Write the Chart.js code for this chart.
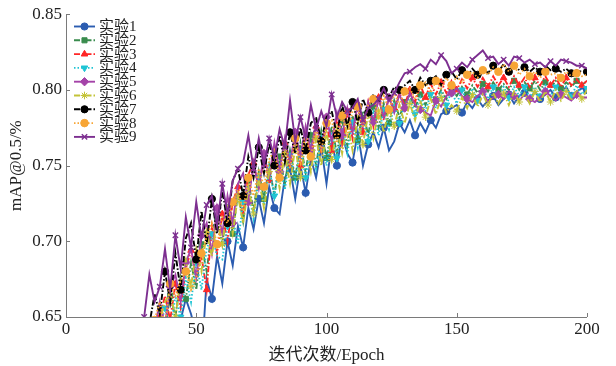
<!DOCTYPE html>
<html><head><meta charset="utf-8">
<script src="https://cdn.jsdelivr.net/npm/chart.js@4/dist/chart.umd.min.js"></script>
<style>html,body{margin:0;padding:0;background:#fff}#wrap{width:616px;height:366px}</style>
</head><body><div id="wrap"><canvas id="c" width="616" height="366"></canvas></div>
<script>
// epochs 30..200 step 2
const epochs = [30,32,34,36,38,40,42,44,46,48,50,52,54,56,58,60,62,64,66,68,70,72,74,76,78,80,82,84,86,88,90,92,94,96,98,100,102,104,106,108,110,112,114,116,118,120,122,124,126,128,130,132,134,136,138,140,142,144,146,148,150,152,154,156,158,160,162,164,166,168,170,172,174,176,178,180,182,184,186,188,190,192,194,196,198,200];
const seriesNames = ['实验1','实验2','实验3','实验4','实验5','实验6','实验7','实验8','实验9'];
const exp1 = [0.60,0.60,0.61,0.61,0.62,0.62,0.63,0.648,0.662,0.652,0.638,0.62,0.675,0.662,0.69,0.672,0.7,0.684,0.71,0.696,0.722,0.708,0.728,0.712,0.736,0.722,0.718,0.742,0.748,0.728,0.75,0.732,0.755,0.742,0.762,0.738,0.765,0.75,0.77,0.758,0.752,0.772,0.75,0.764,0.772,0.762,0.775,0.76,0.766,0.778,0.772,0.78,0.77,0.778,0.772,0.78,0.775,0.784,0.786,0.788,0.79,0.785,0.792,0.788,0.794,0.789,0.793,0.796,0.79,0.794,0.797,0.791,0.796,0.798,0.793,0.799,0.794,0.797,0.8,0.795,0.798,0.802,0.796,0.799,0.801,0.8];
const exp2 = [0.60,0.62,0.64,0.655,0.642,0.664,0.65,0.676,0.662,0.686,0.668,0.698,0.68,0.708,0.715,0.698,0.725,0.705,0.732,0.713,0.74,0.72,0.746,0.728,0.75,0.73,0.756,0.738,0.76,0.742,0.765,0.745,0.77,0.75,0.773,0.755,0.776,0.758,0.78,0.763,0.783,0.767,0.786,0.77,0.789,0.775,0.791,0.778,0.793,0.782,0.792,0.796,0.788,0.797,0.79,0.799,0.793,0.8,0.794,0.801,0.796,0.802,0.797,0.803,0.798,0.804,0.799,0.805,0.8,0.804,0.8,0.806,0.8,0.805,0.801,0.806,0.8,0.805,0.801,0.806,0.801,0.805,0.802,0.806,0.803,0.806];
const exp3 = [0.60,0.62,0.635,0.65,0.664,0.648,0.672,0.656,0.682,0.694,0.676,0.69,0.668,0.71,0.692,0.718,0.7,0.726,0.736,0.718,0.744,0.752,0.734,0.756,0.74,0.762,0.746,0.765,0.748,0.77,0.75,0.772,0.755,0.776,0.758,0.778,0.76,0.782,0.764,0.786,0.768,0.789,0.772,0.792,0.776,0.795,0.78,0.796,0.788,0.798,0.79,0.8,0.792,0.803,0.795,0.804,0.797,0.805,0.798,0.806,0.8,0.807,0.801,0.808,0.802,0.808,0.802,0.809,0.803,0.808,0.802,0.809,0.803,0.808,0.802,0.808,0.803,0.809,0.803,0.808,0.802,0.808,0.803,0.807,0.803,0.806];
const exp4 = [0.60,0.61,0.625,0.642,0.656,0.64,0.664,0.65,0.676,0.66,0.686,0.668,0.695,0.705,0.69,0.688,0.71,0.716,0.698,0.726,0.734,0.715,0.742,0.724,0.748,0.73,0.752,0.734,0.757,0.74,0.762,0.742,0.765,0.748,0.768,0.75,0.772,0.755,0.775,0.758,0.779,0.762,0.782,0.766,0.785,0.77,0.787,0.774,0.79,0.778,0.791,0.794,0.784,0.795,0.786,0.797,0.788,0.798,0.79,0.799,0.791,0.8,0.792,0.801,0.793,0.801,0.794,0.802,0.795,0.802,0.795,0.802,0.796,0.802,0.795,0.802,0.796,0.803,0.796,0.802,0.795,0.802,0.796,0.803,0.797,0.801];
const exp5 = [0.60,0.625,0.642,0.66,0.645,0.67,0.678,0.66,0.686,0.695,0.676,0.704,0.712,0.692,0.722,0.705,0.73,0.712,0.738,0.745,0.726,0.752,0.735,0.758,0.742,0.765,0.746,0.768,0.752,0.772,0.756,0.776,0.76,0.779,0.762,0.782,0.766,0.785,0.77,0.788,0.772,0.79,0.776,0.792,0.779,0.794,0.782,0.795,0.785,0.797,0.788,0.798,0.79,0.787,0.785,0.783,0.793,0.789,0.796,0.798,0.801,0.796,0.794,0.792,0.796,0.799,0.792,0.795,0.797,0.794,0.799,0.796,0.793,0.797,0.794,0.792,0.795,0.799,0.796,0.793,0.797,0.795,0.793,0.797,0.795,0.795];
const exp6 = [0.60,0.615,0.63,0.648,0.66,0.666,0.65,0.675,0.688,0.67,0.695,0.68,0.706,0.69,0.715,0.698,0.724,0.705,0.73,0.712,0.736,0.718,0.742,0.722,0.746,0.754,0.735,0.758,0.738,0.762,0.742,0.765,0.746,0.768,0.75,0.772,0.754,0.775,0.758,0.778,0.76,0.781,0.764,0.784,0.768,0.786,0.772,0.788,0.776,0.79,0.778,0.791,0.78,0.793,0.782,0.794,0.784,0.795,0.785,0.79,0.786,0.795,0.788,0.797,0.789,0.797,0.79,0.798,0.791,0.798,0.79,0.799,0.792,0.798,0.791,0.799,0.792,0.799,0.792,0.8,0.793,0.799,0.793,0.8,0.794,0.8];
const exp7 = [0.62,0.645,0.665,0.652,0.68,0.66,0.692,0.668,0.702,0.712,0.688,0.72,0.698,0.728,0.705,0.734,0.712,0.74,0.748,0.73,0.756,0.742,0.762,0.745,0.765,0.75,0.77,0.752,0.772,0.758,0.775,0.76,0.778,0.782,0.766,0.782,0.786,0.77,0.79,0.776,0.792,0.778,0.794,0.785,0.797,0.792,0.8,0.795,0.802,0.8,0.803,0.806,0.8,0.808,0.803,0.806,0.809,0.803,0.81,0.812,0.807,0.813,0.809,0.814,0.81,0.815,0.811,0.816,0.812,0.817,0.812,0.817,0.813,0.815,0.812,0.815,0.812,0.816,0.813,0.814,0.812,0.814,0.811,0.813,0.812,0.812];
const exp8 = [0.62,0.632,0.648,0.66,0.645,0.672,0.664,0.674,0.68,0.668,0.676,0.692,0.703,0.712,0.698,0.716,0.712,0.726,0.734,0.72,0.742,0.73,0.748,0.736,0.754,0.76,0.742,0.765,0.748,0.768,0.752,0.771,0.756,0.775,0.76,0.778,0.78,0.765,0.783,0.77,0.786,0.789,0.775,0.79,0.794,0.782,0.796,0.787,0.798,0.79,0.799,0.801,0.794,0.803,0.805,0.798,0.806,0.801,0.808,0.803,0.809,0.805,0.81,0.812,0.808,0.813,0.81,0.815,0.812,0.817,0.812,0.816,0.81,0.814,0.809,0.812,0.808,0.812,0.81,0.811,0.808,0.812,0.809,0.811,0.809,0.81];
const exp9 = [0.65,0.678,0.66,0.67,0.695,0.668,0.704,0.682,0.716,0.696,0.726,0.702,0.724,0.73,0.71,0.738,0.718,0.74,0.748,0.752,0.77,0.748,0.768,0.75,0.768,0.755,0.774,0.762,0.793,0.766,0.782,0.768,0.79,0.774,0.786,0.776,0.797,0.782,0.792,0.786,0.788,0.794,0.78,0.788,0.79,0.794,0.801,0.793,0.798,0.805,0.811,0.812,0.815,0.817,0.814,0.82,0.817,0.823,0.819,0.811,0.814,0.818,0.815,0.82,0.823,0.826,0.821,0.822,0.817,0.82,0.816,0.822,0.821,0.818,0.82,0.817,0.818,0.815,0.819,0.816,0.82,0.819,0.818,0.816,0.816,0.814];
const xTicks = [0,50,100,150,200];
const yTicks = [0.65,0.70,0.75,0.80,0.85];

const allSeries = [exp1,exp2,exp3,exp4,exp5,exp6,exp7,exp8,exp9];
const colors = ['#2b5cb0','#3a8c4e','#ff2626','#1fc4d4','#a443a8','#c3c338','#000000','#f7a535','#7d2f90'];
const dashes = [[], [6,2,1.5,2], [6,2,1.5,2], [1.5,2], [], [6,2,1.5,2], [6,2,1.5,2], [1.5,2], []];
const styles = ['circle','rect','triangle','triangle','rectRot','star','circle','circle','crossRot'];
const rots = [0,0,0,180,0,0,0,0,0];
const radii = [3.6,3.6,3.8,3.8,4.2,3.8,3.6,3.8,3.8];
const offs = [1,2,0,1,2,0,1,2,0];

const SERIF = "'Liberation Serif','Noto Sans CJK SC',serif";

const datasets = allSeries.map((s,i)=>({
  label: seriesNames[i],
  data: epochs.map((e,k)=>({x:e,y:s[k]})),
  borderColor: colors[i],
  backgroundColor: colors[i],
  borderWidth: 1.9,
  borderDash: dashes[i],
  pointStyle: styles[i],
  rotation: rots[i],
  pointBorderWidth: i===8 ? 1.4 : 1,
  pointRadius: (ctx)=> (ctx.dataIndex % 3 === offs[i]) ? radii[i] : 0,
  pointHoverRadius: 0,
  tension: 0,
  fill: false,
  order: 9 - i
}));

const axesPlugin = {
  id:'axesPlugin',
  afterDatasetsDraw(chart){
    const {ctx, chartArea:a, scales:{x,y}} = chart;
    ctx.save();
    ctx.strokeStyle = '#7a7a7a';
    ctx.lineWidth = 1;
    ctx.beginPath();
    ctx.moveTo(a.left+0.5, a.top); ctx.lineTo(a.left+0.5, a.bottom+0.5);
    ctx.lineTo(a.right, a.bottom+0.5);
    xTicks.forEach(v=>{const px=Math.round(x.getPixelForValue(v))+0.5; ctx.moveTo(px,a.bottom); ctx.lineTo(px,a.bottom-4);});
    yTicks.forEach(v=>{const py=Math.round(y.getPixelForValue(v))+0.5; ctx.moveTo(a.left,py); ctx.lineTo(a.left+4,py);});
    ctx.stroke();
    ctx.restore();
  },
  afterDraw(chart){
    const ctx = chart.ctx;
    ctx.save();
    const x0=74, x1=95, xt=99, y0=26.5, dy=13.8;
    chart.data.datasets.forEach((d,i)=>{
      const yy = y0 + i*dy;
      ctx.strokeStyle = colors[i];
      ctx.fillStyle = colors[i];
      ctx.lineWidth = 1.9;
      ctx.setLineDash(dashes[i]);
      ctx.beginPath(); ctx.moveTo(x0,yy); ctx.lineTo(x1,yy); ctx.stroke();
      ctx.setLineDash([]);
      ctx.lineWidth = i===8 ? 1.4 : 1;
      Chart.helpers.drawPoint(ctx,{pointStyle:styles[i],rotation:rots[i],radius:radii[i],borderWidth:ctx.lineWidth},(x0+x1)/2,yy);
      ctx.fillStyle = '#222';
      ctx.font = "15px "+SERIF;
      ctx.textBaseline = 'middle';
      ctx.textAlign = 'left';
      ctx.fillText(seriesNames[i], xt, yy+0.5);
    });
    ctx.restore();
  }
};

new Chart(document.getElementById('c'), {
  type:'line',
  data:{datasets},
  options:{
    responsive:false,
    animation:false,
    events:[],
    layout:{padding:{left:0,right:29,top:14,bottom:0}},
    plugins:{legend:{display:false},tooltip:{enabled:false}},
    scales:{
      x:{type:'linear',min:0,max:200,
         afterBuildTicks:(s)=>{s.ticks = xTicks.map(v=>({value:v}));},
         afterFit:(s)=>{s.height=49;},
         grid:{display:false,drawTicks:false,tickLength:0}, border:{display:false},
         ticks:{color:'#222',padding:2,font:{family:SERIF,size:17},maxRotation:0,callback:(v)=>String(v)},
         title:{display:true,text:'迭代次数/Epoch',color:'#222',font:{family:SERIF,size:17},padding:{top:1,bottom:0}}
      },
      y:{type:'linear',min:0.65,max:0.85,
         afterBuildTicks:(s)=>{s.ticks = yTicks.map(v=>({value:v}));},
         afterFit:(s)=>{s.width=66;},
         grid:{display:false,drawTicks:false,tickLength:0}, border:{display:false},
         ticks:{color:'#222',padding:4,font:{family:SERIF,size:17},callback:(v)=>Number(v).toFixed(2)},
         title:{display:true,text:'mAP@0.5/%',color:'#222',font:{family:SERIF,size:17},padding:{top:6,bottom:0}}
      }
    }
  },
  plugins:[axesPlugin]
});
</script></body></html>
